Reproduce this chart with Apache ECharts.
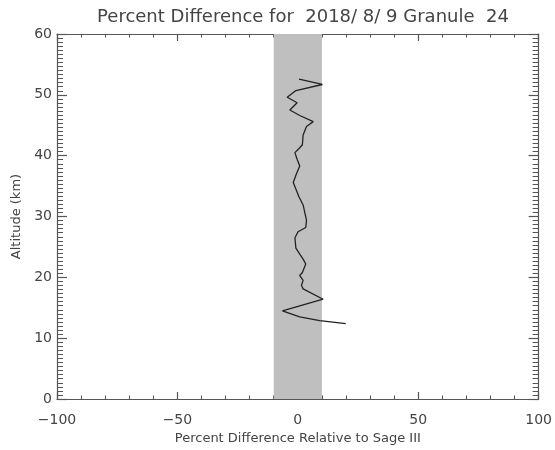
<!DOCTYPE html>
<html>
<head>
<meta charset="utf-8">
<script src="https://cdn.jsdelivr.net/npm/echarts@6/dist/echarts.min.js"></script>
<style>
html, body { margin: 0; padding: 0; background: #fff; }
#chart { width: 555px; height: 450px; }
</style>
</head>
<body>
<div id="chart"></div>
<script>
// 高度 (km)
var altitude = [52.6, 51.7, 50.7, 49.6, 48.7, 47.5, 46.6, 45.6, 44.8, 43.4, 41.8, 41.3, 40.5, 39.4, 38.3, 37.0, 35.6, 34.3, 33.2,
	31.9, 29.4, 28.2, 27.5, 26.5, 24.8, 23.8, 23.0, 22.2, 20.8, 20.3, 19.5, 18.7, 18.1, 16.4, 14.5, 13.5, 12.9, 12.4];
// 百分比差值
var pctDiff = [0.5, 10.2, -0.8, -4.4, -0.3, -3.3, 0.8, 6.4, 3.6, 2.2, 1.9, 0.8, -1.2, -0.3, 0.8, -0.6, -1.9, -0.6, 0.5,
	2.2, 3.6, 3.3, 0.1, -1.2, -0.8, 0.8, 2.2, 3.3, 1.9, 0.8, 2.2, 1.5, 2.2, 10.5, -6.4, 0.8, 9.1, 19.9];
var bandRange = [-10, 10];
var xTicks = [-100, 100, 50];
var yTicks = [0, 60, 10];

var lineData = [];
for(var i = 0; i < altitude.length; i++) {
	lineData.push([pctDiff[i], altitude[i]]);
}

var axisColor = '#555';
var textColor = '#444';
var fontFam = 'DejaVu Sans, Liberation Sans, sans-serif';

function makeX(pos, showLabel) {
	return {
		type: 'value',
		position: pos,
		min: xTicks[0],
		max: xTicks[1],
		interval: xTicks[2],
		axisLine: { show: true, onZero: false, lineStyle: { color: axisColor, width: 1.2 } },
		axisTick: { show: true, inside: true, length: 7, lineStyle: { color: axisColor, width: 1.2 } },
		minorTick: { show: true, splitNumber: 5, length: 3.5, lineStyle: { color: axisColor, width: 1 } },
		axisLabel: { show: showLabel, color: textColor, fontSize: 14, fontFamily: fontFam, margin: 14,
			formatter: function(v) { return v < 0 ? '\u2212' + Math.abs(v) : '' + v; } },
		splitLine: { show: false },
		name: showLabel ? 'Percent Difference Relative to Sage III' : '',
		nameLocation: 'middle',
		nameGap: 33,
		nameTextStyle: { color: textColor, fontSize: 13, fontFamily: fontFam }
	};
}

function makeY(pos, showLabel) {
	return {
		type: 'value',
		position: pos,
		min: yTicks[0],
		max: yTicks[1],
		interval: yTicks[2],
		axisLine: { show: true, onZero: false, lineStyle: { color: axisColor, width: 1.2 } },
		axisTick: { show: true, inside: true, length: 10, lineStyle: { color: axisColor, width: 1.2 } },
		minorTick: { show: true, splitNumber: 15, length: 6, lineStyle: { color: axisColor, width: 1 } },
		axisLabel: { show: showLabel, color: textColor, fontSize: 14, fontFamily: fontFam, margin: 5 },
		splitLine: { show: false },
		name: showLabel ? 'Altitude (km)' : '',
		nameLocation: 'middle',
		nameGap: 31,
		nameTextStyle: { color: textColor, fontSize: 13, fontFamily: fontFam }
	};
}

var option = {
	animation: false,
	backgroundColor: '#fff',
	title: {
		text: 'Percent Difference for  2018/ 8/ 9 Granule  24',
		left: 298,
		textAlign: 'center',
		top: 3,
		textStyle: { color: textColor, fontSize: 18, fontWeight: 'normal', fontFamily: fontFam }
	},
	grid: {
		left: 57,
		right: 16,
		top: 34,
		bottom: 45
	},
	xAxis: [makeX('bottom', true), makeX('top', false)],
	yAxis: [makeY('left', true), makeY('right', false)],
	series: [
		{
			name: 'band',
			type: 'line',
			data: [],
			markArea: {
				silent: true,
				itemStyle: { color: '#bfbfbf' },
				data: [[{ xAxis: bandRange[0] }, { xAxis: bandRange[1] }]]
			}
		},
		{
			name: 'diff',
			type: 'line',
			data: lineData,
			symbol: 'none',
			lineStyle: { color: '#222', width: 1.3 }
		}
	]
};

var chart = echarts.init(document.getElementById('chart'));
chart.setOption(option);
</script>
</body>
</html>
